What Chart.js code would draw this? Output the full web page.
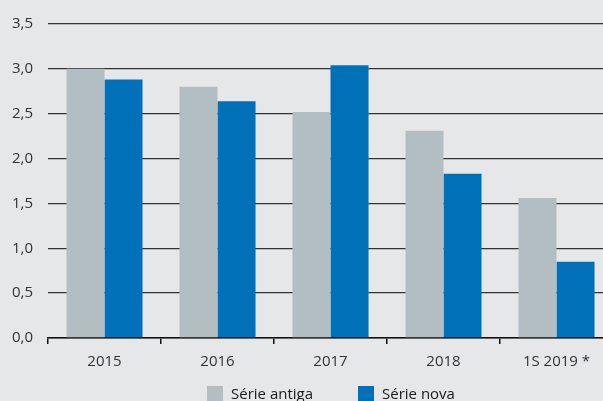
<!DOCTYPE html>
<html>
<head>
<meta charset="utf-8">
<script src="https://cdn.jsdelivr.net/npm/chart.js@4/dist/chart.umd.min.js"></script>
<style>
  html, body { margin: 0; padding: 0; background: #e6e7e9; overflow: hidden; width: 603px; height: 401px; }
  #wrap { position: relative; width: 613px; height: 401px; }
  #legend { position: absolute; top: 386px; left: 0; width: 603px; font: 15px 'Open Sans', sans-serif; color: #1a1a1a; }
  .item { position: absolute; top: 0; display: flex; align-items: flex-start; white-space: nowrap; }
  .box { width: 16px; height: 16px; margin-right: 8px; }
  .item span { line-height: 16px; margin-top: -1px; }
</style>
</head>
<body>
<div id="wrap">
  <canvas id="c" width="613" height="401"></canvas>
  <div id="legend"></div>
</div>
<script>
const categories = ['2015', '2016', '2017', '2018', '1S 2019 *'];
const serieAntiga = [3.0, 2.8, 2.52, 2.31, 1.56];
const serieNova = [2.88, 2.64, 3.04, 1.83, 0.85];
const yTicks = [0, 0.5, 1, 1.5, 2, 2.5, 3, 3.5];

const font = { family: 'Open Sans', size: 15 };

const chart = new Chart(document.getElementById('c'), {
  type: 'bar',
  data: {
    labels: categories,
    datasets: [
      { label: 'Série antiga', data: serieAntiga, backgroundColor: '#b3bec3' },
      { label: 'Série nova', data: serieNova, backgroundColor: '#0071b9' }
    ]
  },
  options: {
    responsive: false,
    animation: false,
    devicePixelRatio: 1,
    categoryPercentage: 0.673,
    barPercentage: 1,
    layout: { padding: { top: 24, right: 0, left: 0, bottom: 0 } },
    plugins: {
      tooltip: { enabled: false },
      legend: { display: false }
    },
    scales: {
      x: {
        afterFit: s => { s.height = 63; },
        border: { color: '#111', width: 1.5 },
        grid: { offset: true, drawOnChartArea: false, drawTicks: true, tickLength: 6, color: '#111', lineWidth: 1.5 },
        ticks: { color: '#333', font: font, padding: 9 }
      },
      y: {
        min: 0,
        max: 3.5,
        afterFit: s => { s.width = 48; },
        afterBuildTicks: s => { s.ticks = yTicks.map(v => ({ value: v })); },
        border: { display: false },
        grid: { drawTicks: false, color: '#333', lineWidth: 1.3 },
        ticks: {
          color: '#333',
          font: font,
          padding: 15,
          callback: v => v.toFixed(1).replace('.', ',')
        }
      }
    }
  }
});

// HTML legend built from the chart's datasets
const legendLeft = [207, 358];
const legend = document.getElementById('legend');
chart.data.datasets.forEach((ds, i) => {
  const item = document.createElement('div');
  item.className = 'item';
  item.style.left = legendLeft[i] + 'px';
  const box = document.createElement('div');
  box.className = 'box';
  box.style.background = ds.backgroundColor;
  const txt = document.createElement('span');
  txt.textContent = ds.label;
  item.appendChild(box);
  item.appendChild(txt);
  legend.appendChild(item);
});
</script>
</body>
</html>
